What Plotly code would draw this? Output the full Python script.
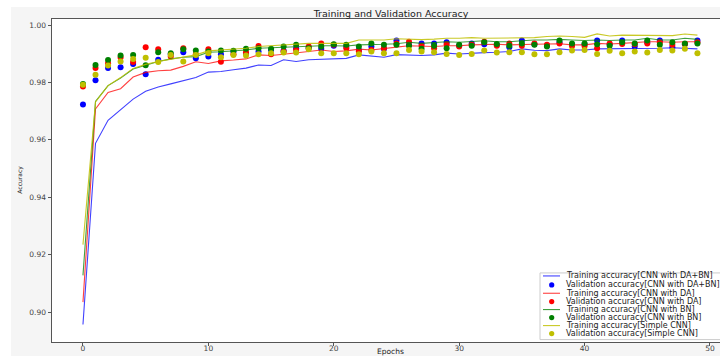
import plotly.graph_objects as go

epochs = list(range(50))

train_da_bn = [0.8957, 0.9588, 0.9668, 0.9705, 0.9742, 0.9769, 0.9784, 0.9795, 0.9806, 0.9817,
               0.9836, 0.9838, 0.9844, 0.9850, 0.9861, 0.9859, 0.9879, 0.9873, 0.9879, 0.9881,
               0.9883, 0.9884, 0.9896, 0.9893, 0.9888, 0.9897, 0.9896, 0.9894, 0.9896, 0.9902,
               0.9899, 0.9902, 0.9904, 0.9905, 0.9908, 0.9917, 0.9912, 0.9911, 0.9917, 0.9913,
               0.9913, 0.9917, 0.9917, 0.9917, 0.9919, 0.9919, 0.9919, 0.9921, 0.9919, 0.9917]
val_da_bn = [0.9723, 0.9808, 0.9850, 0.9853, 0.9864, 0.9829, 0.9879, 0.9898, 0.9905, 0.9884,
             0.9890, 0.9898, 0.9908, 0.9900, 0.9908, 0.9913, 0.9910, 0.9919, 0.9921, 0.9917,
             0.9928, 0.9925, 0.9913, 0.9925, 0.9917, 0.9946, 0.9931, 0.9936, 0.9936, 0.9940,
             0.9928, 0.9936, 0.9933, 0.9931, 0.9923, 0.9946, 0.9933, 0.9928, 0.9940, 0.9931,
             0.9933, 0.9946, 0.9933, 0.9946, 0.9925, 0.9940, 0.9946, 0.9923, 0.9933, 0.9946]

train_da = [0.9035, 0.9708, 0.9765, 0.9778, 0.9819, 0.9835, 0.9841, 0.9843, 0.9856, 0.9872,
            0.9866, 0.9875, 0.9878, 0.9882, 0.9896, 0.9894, 0.9898, 0.9902, 0.9908, 0.9913,
            0.9908, 0.9910, 0.9916, 0.9913, 0.9917, 0.9923, 0.9928, 0.9927, 0.9925, 0.9928,
            0.9928, 0.9931, 0.9933, 0.9933, 0.9931, 0.9933, 0.9933, 0.9934, 0.9935, 0.9931,
            0.9931, 0.9936, 0.9934, 0.9936, 0.9940, 0.9942, 0.9942, 0.9940, 0.9942, 0.9942]
val_da = [0.9786, 0.9850, 0.9867, 0.9887, 0.9871, 0.9923, 0.9916, 0.9890, 0.9919, 0.9898,
          0.9916, 0.9872, 0.9898, 0.9905, 0.9927, 0.9898, 0.9908, 0.9913, 0.9925, 0.9936,
          0.9931, 0.9919, 0.9908, 0.9913, 0.9919, 0.9936, 0.9942, 0.9928, 0.9919, 0.9933,
          0.9925, 0.9931, 0.9942, 0.9928, 0.9936, 0.9928, 0.9936, 0.9931, 0.9936, 0.9927,
          0.9927, 0.9919, 0.9936, 0.9934, 0.9933, 0.9936, 0.9940, 0.9931, 0.9934, 0.9940]

train_bn = [0.9128, 0.9734, 0.9789, 0.9815, 0.9847, 0.9860, 0.9873, 0.9882, 0.9888, 0.9890,
            0.9905, 0.9907, 0.9910, 0.9913, 0.9919, 0.9921, 0.9924, 0.9925, 0.9927, 0.9928,
            0.9928, 0.9927, 0.9931, 0.9931, 0.9933, 0.9935, 0.9940, 0.9936, 0.9940, 0.9942,
            0.9940, 0.9942, 0.9945, 0.9942, 0.9942, 0.9945, 0.9948, 0.9948, 0.9950, 0.9948,
            0.9946, 0.9948, 0.9946, 0.9948, 0.9948, 0.9954, 0.9948, 0.9948, 0.9954, 0.9950]
val_bn = [0.9795, 0.9861, 0.9878, 0.9894, 0.9896, 0.9860, 0.9905, 0.9902, 0.9916, 0.9911,
          0.9908, 0.9911, 0.9910, 0.9917, 0.9919, 0.9917, 0.9925, 0.9931, 0.9919, 0.9925,
          0.9933, 0.9931, 0.9925, 0.9936, 0.9931, 0.9931, 0.9928, 0.9917, 0.9928, 0.9919,
          0.9931, 0.9928, 0.9940, 0.9934, 0.9928, 0.9936, 0.9931, 0.9925, 0.9946, 0.9936,
          0.9936, 0.9933, 0.9928, 0.9940, 0.9936, 0.9946, 0.9931, 0.9940, 0.9936, 0.9936]

train_simple = [0.9235, 0.9732, 0.9789, 0.9817, 0.9849, 0.9863, 0.9873, 0.9881, 0.9887, 0.9896,
                0.9910, 0.9913, 0.9916, 0.9919, 0.9925, 0.9928, 0.9931, 0.9934, 0.9936, 0.9936,
                0.9936, 0.9936, 0.9948, 0.9947, 0.9948, 0.9952, 0.9951, 0.9949, 0.9951, 0.9954,
                0.9954, 0.9956, 0.9954, 0.9954, 0.9956, 0.9956, 0.9956, 0.9960, 0.9962, 0.9960,
                0.9957, 0.9969, 0.9962, 0.9965, 0.9965, 0.9965, 0.9965, 0.9963, 0.9969, 0.9965]
val_simple = [0.9792, 0.9827, 0.9859, 0.9873, 0.9882, 0.9886, 0.9871, 0.9896, 0.9873, 0.9896,
              0.9902, 0.9888, 0.9896, 0.9894, 0.9898, 0.9902, 0.9904, 0.9904, 0.9916, 0.9902,
              0.9902, 0.9902, 0.9898, 0.9908, 0.9902, 0.9902, 0.9913, 0.9908, 0.9905, 0.9899,
              0.9896, 0.9899, 0.9911, 0.9904, 0.9905, 0.9905, 0.9898, 0.9898, 0.9905, 0.9911,
              0.9913, 0.9899, 0.9910, 0.9902, 0.9908, 0.9904, 0.9913, 0.9911, 0.9917, 0.9902]

series = [
    ("Training accuracy[CNN with DA+BN]", train_da_bn, "line", "rgba(0,0,255,0.75)"),
    ("Validation accuracy[CNN with DA+BN]", val_da_bn, "dot", "#0000ff"),
    ("Training accuracy[CNN with DA]", train_da, "line", "rgba(255,0,0,0.75)"),
    ("Validation accuracy[CNN with DA]", val_da, "dot", "#ff0000"),
    ("Training accuracy[CNN with BN]", train_bn, "line", "rgba(0,128,0,0.75)"),
    ("Validation accuracy[CNN with BN]", val_bn, "dot", "#008000"),
    ("Training accuracy[Simple CNN]", train_simple, "line", "rgba(191,191,0,0.85)"),
    ("Validation accuracy[Simple CNN]", val_simple, "dot", "#bfbf00"),
]

y_ticks = [0.90, 0.92, 0.94, 0.96, 0.98, 1.00]
x_ticks = [0, 10, 20, 30, 40, 50]

W, H = 720, 356
L, T, R, B = 52, 19, 720, 341.7
PW, PH = R - L, B - T


def px(x):
    return (x - L) / PW


def py(y):
    return (B - y) / PH


fig = go.Figure()
for name, vals, kind, color in series:
    if kind == "line":
        fig.add_trace(go.Scatter(x=epochs, y=vals, mode="lines", name=name,
                                 line=dict(color=color, width=1.1), showlegend=False))
    else:
        fig.add_trace(go.Scatter(x=epochs, y=vals, mode="markers", name=name,
                                 marker=dict(color=color, size=6, line=dict(width=0)),
                                 showlegend=False))

shapes = []
annotations = []
# white outer strips (figure crop)
shapes.append(dict(type="rect", xref="paper", yref="paper", x0=px(0), x1=px(11), y0=py(H), y1=py(0),
                   fillcolor="white", line=dict(width=0), layer="above"))
shapes.append(dict(type="rect", xref="paper", yref="paper", x0=px(0), x1=px(W), y0=py(7), y1=py(0),
                   fillcolor="white", line=dict(width=0), layer="above"))

# manual legend
shapes.append(dict(type="rect", xref="paper", yref="paper", x0=px(540), x1=px(724), y0=py(339.3), y1=py(272.7),
                   fillcolor="rgba(255,255,255,0.85)", line=dict(color="#cccccc", width=1), layer="above"))
row_y = [275.7, 284.7, 293.0, 301.3, 309.3, 317.3, 325.3, 333.3]
for (name, vals, kind, color), ry in zip(series, row_y):
    if kind == "line":
        shapes.append(dict(type="line", xref="paper", yref="paper", x0=px(543), x1=px(560),
                           y0=py(ry), y1=py(ry), line=dict(color=color, width=1.1), layer="above"))
    else:
        r = 2.6
        shapes.append(dict(type="circle", xref="paper", yref="paper", x0=px(551.7 - r), x1=px(551.7 + r),
                           y0=py(ry + r), y1=py(ry - r), fillcolor=color, line=dict(width=0), layer="above"))
    annotations.append(dict(text=name, xref="paper", yref="paper", x=px(565), y=py(ry),
                            xanchor="left", yanchor="middle", showarrow=False, borderpad=0,
                            font=dict(family="DejaVu Sans", size=8, color="#222222")))

annotations.append(dict(text="Epochs", xref="paper", yref="paper", x=px(390), y=py(351.2),
                        xanchor="center", yanchor="middle", showarrow=False, borderpad=0,
                        font=dict(family="DejaVu Sans", size=7.5, color="#222222")))
annotations.append(dict(text="Accuracy", xref="paper", yref="paper", x=px(20.5), y=py(180),
                        xanchor="center", yanchor="middle", showarrow=False, textangle=-90,
                        font=dict(family="DejaVu Sans", size=6, color="#222222")))

fig.update_layout(
    width=W, height=H,
    margin=dict(l=L, r=0, t=T, b=H - B, pad=0, autoexpand=False),
    paper_bgcolor="#f5f5f5",
    plot_bgcolor="white",
    title=dict(text="Training and Validation Accuracy", x=px(391), xref="paper", xanchor="center",
               y=1 - 13.5 / H, yref="container", yanchor="middle", automargin=False,
               font=dict(family="DejaVu Sans", size=9.5, color="#222222")),
    xaxis=dict(range=[-2.47, 50.8], tickvals=x_ticks, ticktext=[str(v) for v in x_ticks],
               showgrid=False, zeroline=False, showline=True, linecolor="#555555", linewidth=1,
               mirror=True, ticks="outside", ticklen=3, tickcolor="#555555", tickwidth=1,
               automargin=False, ticklabelstandoff=-4,
               tickfont=dict(family="DejaVu Sans", size=7.5, color="#444444")),
    yaxis=dict(range=[0.8896, 1.0021], tickvals=y_ticks, ticktext=[f"{v:.2f}" for v in y_ticks],
               showgrid=False, zeroline=False, showline=True, linecolor="#555555", linewidth=1,
               ticks="outside", ticklen=3.5, tickcolor="#555555", tickwidth=1, automargin=False,
               tickfont=dict(family="DejaVu Sans", size=7.5, color="#444444")),
    shapes=shapes,
    annotations=annotations,
    showlegend=False,
)

fig.write_html("out.html", config={"displayModeBar": False},
               post_script="document.body.style.margin='0px';document.body.style.overflow='hidden';")
